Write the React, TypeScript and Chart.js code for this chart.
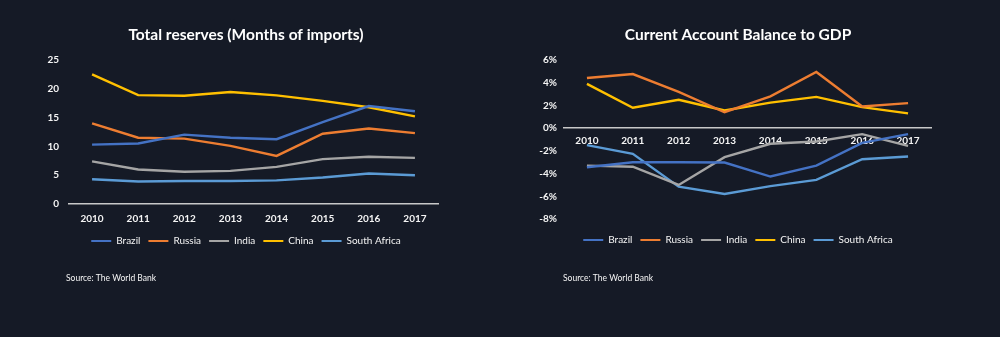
import React, { useEffect, useRef } from 'react';
import { Chart, registerables } from 'chart.js';

Chart.register(...registerables);

// ---------- data ----------
const years = ['2010', '2011', '2012', '2013', '2014', '2015', '2016', '2017'];
const countries = ['Brazil', 'Russia', 'India', 'China', 'South Africa'];
const countryColors = ['#4472C4', '#ED7D31', '#A5A5A5', '#FFC000', '#5B9BD5'];

// Total reserves (months of imports)
const reservesBrazil = [10.3, 10.5, 12.05, 11.5, 11.25, 14.2, 17.0, 16.1];
const reservesRussia = [14.0, 11.5, 11.35, 10.1, 8.35, 12.2, 13.1, 12.3];
const reservesIndia = [7.4, 6.0, 5.6, 5.75, 6.45, 7.8, 8.2, 8.0];
const reservesChina = [22.5, 18.9, 18.8, 19.45, 18.85, 17.9, 16.8, 15.2];
const reservesSouthAfrica = [4.3, 3.9, 4.0, 4.0, 4.1, 4.6, 5.3, 5.0];

// Current account balance to GDP (%)
const cabBrazil = [-3.44, -3.0, -3.0, -3.03, -4.26, -3.3, -1.3, -0.53];
const cabRussia = [4.41, 4.76, 3.2, 1.4, 2.8, 4.94, 1.9, 2.2];
const cabIndia = [-3.3, -3.4, -5.0, -2.56, -1.38, -1.18, -0.53, -1.56];
const cabChina = [3.9, 1.8, 2.5, 1.55, 2.25, 2.75, 1.85, 1.3];
const cabSouthAfrica = [-1.5, -2.26, -5.15, -5.8, -5.1, -4.56, -2.74, -2.5];

const reservesTitle = 'Total reserves (Months of imports)';
const cabTitle = 'Current Account Balance to GDP';
const sourceText = 'Source: The World Bank';

const reservesMin = 0;
const reservesMax = 25;
const reservesStep = 5;
const cabMin = -8;
const cabMax = 6;
const cabStep = 2;

// ---------- styling ----------
const BG = '#151a26';
const TEXT = '#f4f4f4';
const AXIS = '#c8c8c8';
const FONT = 'Lato, "Open Sans", sans-serif';

const sourcePlugin = {
  id: 'sourceNote',
  afterDraw(chart: any, _args: any, opts: any) {
    const { ctx, chartArea } = chart;
    ctx.save();
    ctx.font = `8.5px ${FONT}`;
    ctx.fillStyle = TEXT;
    ctx.textAlign = 'left';
    ctx.textBaseline = 'middle';
    ctx.fillText(opts.text, chartArea.left + opts.dx, opts.y);
    ctx.restore();
  },
};

function buildDatasets(series: number[][]) {
  return countries.map((name, i) => ({
    label: name,
    data: series[i],
    borderColor: countryColors[i],
    backgroundColor: countryColors[i],
    borderWidth: 2.4,
    pointRadius: 0,
    pointHoverRadius: 0,
    tension: 0,
    fill: false,
    yAxisID: 'y',
  }));
}

function legendOptions(titleGap: number) {
  return {
    position: 'bottom',
    title: {
      display: titleGap > 0,
      text: '',
      font: { size: Math.max(titleGap / 1.2, 1) },
      padding: 0,
    },
    labels: {
      boxWidth: 20,
      boxHeight: 2,
      padding: 8,
      color: TEXT,
      font: { family: FONT, size: 10 },
      generateLabels(chart: any) {
        const items = Chart.defaults.plugins.legend.labels.generateLabels(chart);
        return items.map((it: any) => ({ ...it, lineWidth: 0, strokeStyle: 'transparent' }));
      },
    },
  };
}

function spacerAxis(width: number) {
  return {
    type: 'linear',
    position: 'right',
    display: true,
    grid: { display: false, drawTicks: false },
    border: { display: false },
    ticks: { display: false },
    afterFit(scale: any) {
      scale.width = width;
    },
  };
}

function ReservesChart() {
  const ref = useRef<HTMLCanvasElement | null>(null);
  useEffect(() => {
    if (!ref.current) return;
    const chart = new Chart(ref.current, {
      type: 'line',
      data: {
        labels: years,
        datasets: buildDatasets([
          reservesBrazil,
          reservesRussia,
          reservesIndia,
          reservesChina,
          reservesSouthAfrica,
        ]),
      },
      options: {
        responsive: false,
        animation: false,
        events: [],
        layout: { padding: { left: 30, right: 38, top: 0, bottom: 81 } },
        plugins: {
          title: {
            display: true,
            text: reservesTitle,
            color: '#ffffff',
            font: { family: FONT, size: 15.5, weight: 'bold' },
            padding: { top: 26, bottom: 15.4 },
          },
          legend: legendOptions(0),
          tooltip: { enabled: false },
          sourceNote: { text: sourceText, dx: -3, y: 278 },
        },
        scales: {
          x: {
            offset: true,
            grid: { display: true, color: 'transparent', drawTicks: false },
            border: { display: true, color: AXIS, width: 1.5 },
            ticks: {
              color: TEXT,
              font: { family: FONT, size: 10, weight: 'bold' },
              padding: 9,
              maxRotation: 0,
            },
            afterFit(scale: any) {
              scale.height = 24;
            },
          },
          y: {
            min: reservesMin,
            max: reservesMax,
            grid: { display: false, drawTicks: false },
            border: { display: false },
            ticks: {
              stepSize: reservesStep,
              color: TEXT,
              font: { family: FONT, size: 10, weight: 'bold' },
              padding: 10,
            },
            afterFit(scale: any) {
              scale.width = 39;
            },
          },
          spacer: spacerAxis(24),
        },
      } as any,
      plugins: [sourcePlugin],
    });
    return () => chart.destroy();
  }, []);
  return <canvas ref={ref} width={500} height={337} style={{ position: 'absolute', left: 0, top: 0, width: 500, height: 337 }} />;
}

function CabChart() {
  const ref = useRef<HTMLCanvasElement | null>(null);
  useEffect(() => {
    if (!ref.current) return;
    const chart = new Chart(ref.current, {
      type: 'line',
      data: {
        labels: years,
        datasets: buildDatasets([cabBrazil, cabRussia, cabIndia, cabChina, cabSouthAfrica]),
      },
      options: {
        responsive: false,
        animation: false,
        events: [],
        layout: { padding: { left: 20, right: 44, top: 0, bottom: 82 } },
        plugins: {
          title: {
            display: true,
            text: cabTitle,
            color: '#ffffff',
            font: { family: FONT, size: 15.5, weight: 'bold' },
            padding: { top: 26, bottom: 15.4 },
          },
          legend: legendOptions(8),
          tooltip: { enabled: false },
          sourceNote: { text: sourceText, dx: -1, y: 278 },
        },
        scales: {
          x: {
            position: { y: 0 },
            offset: true,
            grid: { display: true, color: 'transparent', drawTicks: false },
            border: { display: true, color: AXIS, width: 1.5 },
            ticks: {
              color: TEXT,
              font: { family: FONT, size: 10, weight: 'bold' },
              padding: 7,
              maxRotation: 0,
            },
          },
          y: {
            min: cabMin,
            max: cabMax,
            grid: { display: false, drawTicks: false },
            border: { display: false },
            ticks: {
              stepSize: cabStep,
              color: TEXT,
              font: { family: FONT, size: 10, weight: 'bold' },
              padding: 7,
              callback: (v: any) => `${v}%`,
            },
            afterFit(scale: any) {
              scale.width = 44;
            },
          },
          spacer: spacerAxis(25),
        },
      } as any,
      plugins: [sourcePlugin],
    });
    return () => chart.destroy();
  }, []);
  return <canvas ref={ref} width={500} height={337} style={{ position: 'absolute', left: 500, top: 0, width: 500, height: 337 }} />;
}

export default function App() {
  useEffect(() => {
    document.body.style.margin = '0';
    document.body.style.background = BG;
  }, []);
  return (
    <div style={{ position: 'absolute', left: 0, top: 0, width: 1000, height: 337, background: BG, overflow: 'hidden' }}>
      <ReservesChart />
      <CabChart />
    </div>
  );
}
